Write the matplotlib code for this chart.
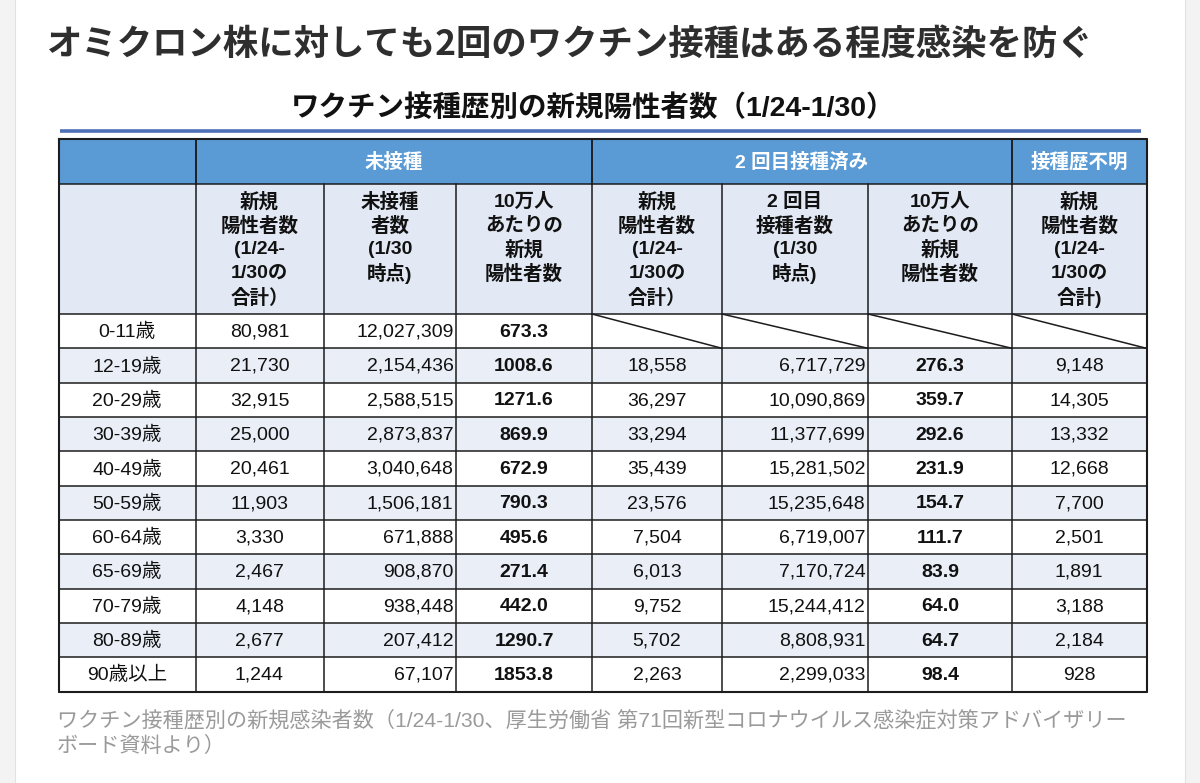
import matplotlib
matplotlib.use('Agg')
import matplotlib.pyplot as plt
from matplotlib.patches import Rectangle

CJK = ['Noto Sans CJK JP', 'DejaVu Sans']
MIX = ['Liberation Sans', 'Noto Sans CJK JP', 'DejaVu Sans']

title = 'オミクロン株に対しても2回のワクチン接種はある程度感染を防ぐ'
subtitle = 'ワクチン接種歴別の新規陽性者数（1/24-1/30）'
caption = ['ワクチン接種歴別の新規感染者数（1/24-1/30、厚生労働省 第71回新型コロナウイルス感染症対策アドバイザリー',
           'ボード資料より）']

groups = ['', '未接種', '2 回目接種済み', '接種歴不明']
group_span = [(0, 1), (1, 4), (4, 7), (7, 8)]
col_heads = ['', '新規\n陽性者数\n(1/24-\n1/30の\n合計）', '未接種\n者数\n(1/30\n時点)',
             '10万人\nあたりの\n新規\n陽性者数', '新規\n陽性者数\n(1/24-\n1/30の\n合計）',
             '2 回目\n接種者数\n(1/30\n時点)', '10万人\nあたりの\n新規\n陽性者数',
             '新規\n陽性者数\n(1/24-\n1/30の\n合計)']

ages = ['0-11歳', '12-19歳', '20-29歳', '30-39歳', '40-49歳', '50-59歳',
        '60-64歳', '65-69歳', '70-79歳', '80-89歳', '90歳以上']
unvax_cases = [80981, 21730, 32915, 25000, 20461, 11903, 3330, 2467, 4148, 2677, 1244]
unvax_pop = [12027309, 2154436, 2588515, 2873837, 3040648, 1506181, 671888, 908870,
             938448, 207412, 67107]
unvax_rate = [673.3, 1008.6, 1271.6, 869.9, 672.9, 790.3, 495.6, 271.4, 442.0, 1290.7, 1853.8]
vax2_cases = [None, 18558, 36297, 33294, 35439, 23576, 7504, 6013, 9752, 5702, 2263]
vax2_pop = [None, 6717729, 10090869, 11377699, 15281502, 15235648, 6719007, 7170724,
            15244412, 8808931, 2299033]
vax2_rate = [None, 276.3, 359.7, 292.6, 231.9, 154.7, 111.7, 83.9, 64.0, 64.7, 98.4]
unknown_cases = [None, 9148, 14305, 13332, 12668, 7700, 2501, 1891, 3188, 2184, 928]

# layout in pixels
col_x = [58.5, 195.5, 323.5, 456, 592, 722, 868, 1012, 1146.5]
h1_top, h1_bot, h2_bot, tab_bot = 139, 183.5, 314, 691.5
row_h = (tab_bot - h2_bot) / len(ages)

fig = plt.figure(figsize=(12, 7.83), dpi=100)
ax = fig.add_axes([0, 0, 1, 1])
ax.set_xlim(0, 1200)
ax.set_ylim(783, 0)
ax.axis('off')

# page edges
ax.add_patch(Rectangle((0, 0), 15, 783, color='#f3f3f3', lw=0))
ax.add_patch(Rectangle((1185, 0), 15, 783, color='#f3f3f3', lw=0))
ax.plot([15, 15], [0, 783], color='#e2e2e2', lw=0.8)
ax.plot([1185, 1185], [0, 783], color='#e2e2e2', lw=0.8)

ax.text(47, 44, title, fontsize=25.5, fontweight='bold', color='#2e2e2e',
        family=CJK, ha='left', va='center')
ax.text(593, 108, subtitle, fontsize=20.5, fontweight='bold', color='#111111',
        family=MIX, ha='center', va='center')
ax.plot([60, 1141], [131, 131], color='#4f6fb8', lw=2.6, solid_capstyle='butt')

# backgrounds
ax.add_patch(Rectangle((col_x[0], h1_top), col_x[-1] - col_x[0], h1_bot - h1_top,
                       color='#5b9bd5', lw=0))
ax.add_patch(Rectangle((col_x[0], h1_bot), col_x[-1] - col_x[0], h2_bot - h1_bot,
                       color='#e2e9f4', lw=0))
for i in range(len(ages)):
    if i % 2 == 1:
        y0 = h2_bot + i * row_h
        ax.add_patch(Rectangle((col_x[0], y0), col_x[-1] - col_x[0], row_h,
                               color='#e9eef7', lw=0))

line_c = '#1c1c1c'
# horizontal lines
for y in [h1_bot, h2_bot] + [h2_bot + i * row_h for i in range(1, len(ages))]:
    ax.plot([col_x[0], col_x[-1]], [y, y], color=line_c, lw=1.1)
# vertical lines
for x in col_x:
    ax.plot([x, x], [h1_bot, tab_bot], color=line_c, lw=1.1)
for a, b in group_span:
    for x in (col_x[a], col_x[b]):
        ax.plot([x, x], [h1_top, h1_bot], color=line_c, lw=1.1)
# outer border
ax.plot([col_x[0], col_x[-1], col_x[-1], col_x[0], col_x[0]],
        [h1_top, h1_top, tab_bot, tab_bot, h1_top], color=line_c, lw=1.5)

# group headers
for g, (a, b) in zip(groups, group_span):
    ax.text((col_x[a] + col_x[b]) / 2, (h1_top + h1_bot) / 2 + 1, g, fontsize=14,
            fontweight='bold', color='white', family=MIX, ha='center', va='center')

# column headers, line by line
for c, head in enumerate(col_heads):
    cx = (col_x[c] + col_x[c + 1]) / 2
    for j, line in enumerate(head.split('\n')):
        ax.text(cx, 202 + j * 24, line, fontsize=14, fontweight='bold', color='#111111',
                family=MIX, ha='center', va='center')

columns = [unvax_cases, unvax_pop, unvax_rate, vax2_cases, vax2_pop, vax2_rate, unknown_cases]
right_cols = {1, 4}
bold_cols = {2, 5}
fs = 14
for i, age in enumerate(ages):
    y0 = h2_bot + i * row_h
    cy = y0 + row_h / 2 + 1
    ax.text((col_x[0] + col_x[1]) / 2, cy, age, fontsize=fs, color='#111111',
            family=MIX, ha='center', va='center')
    for c, vals in enumerate(columns):
        left, right = col_x[c + 1], col_x[c + 2]
        v = vals[i]
        if v is None:
            ax.plot([left, right], [y0, y0 + row_h], color=line_c, lw=1.1)
            continue
        s = f'{v:.1f}' if c in bold_cols else f'{v:,}'
        if c in right_cols:
            ax.text(right - 2.5, cy, s, fontsize=fs, color='#111111', family=MIX,
                    ha='right', va='center')
        else:
            ax.text((left + right) / 2, cy, s, fontsize=fs, color='#111111',
                    family=MIX, ha='center', va='center',
                    fontweight='bold' if c in bold_cols else 'normal')

for j, line in enumerate(caption):
    ax.text(57, 720 + j * 26, line, fontsize=15.2, color='#9a9a9a', family=MIX,
            ha='left', va='center')

fig.savefig('out.png', dpi=100)
